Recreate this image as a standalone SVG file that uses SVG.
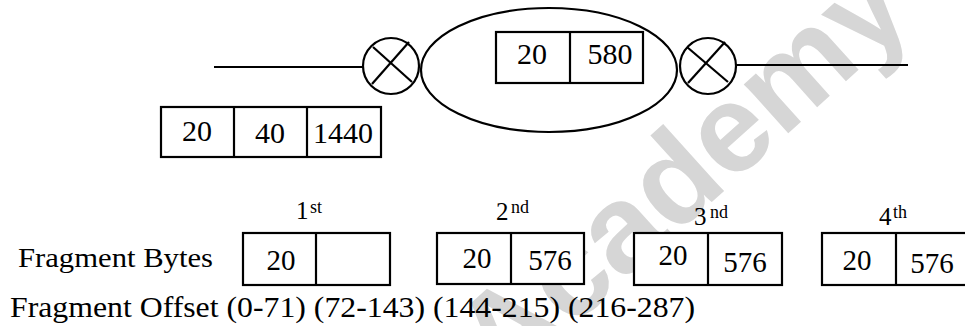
<svg xmlns="http://www.w3.org/2000/svg" width="965" height="326" viewBox="0 0 965 326">
<style>
  .s{fill:none;stroke:#000;stroke-width:2.2}
  .box{fill:#fff;stroke:#000;stroke-width:2.2}
  .n{font-size:30px;text-anchor:middle}
  .b{font-size:29px;text-anchor:middle}
  .o{font-size:25px}
  .sup{font-size:18px}
  .wm{font-weight:bold;font-size:125px;fill:#d6d6d6}
</style>
<rect width="965" height="326" fill="#fff"/>
<g id="watermark" font-family="Liberation Sans, Arial, sans-serif">
  <text class="wm" transform="translate(503,390) rotate(-42)" x="0" y="0">Academy</text>
</g>
<g id="connectors">
  <line class="s" x1="214" y1="67" x2="363" y2="67"/>
  <line class="s" x1="736" y1="65" x2="908" y2="65"/>
</g>
<g id="router-left">
  <circle class="s" cx="391" cy="66" r="28"/>
  <line class="s" x1="372" y1="84" x2="409" y2="42"/>
  <line class="s" x1="373" y1="47" x2="412" y2="82"/>
</g>
<g id="network">
  <ellipse class="s" cx="549" cy="70" rx="128" ry="62"/>
</g>
<g id="router-right">
  <circle class="s" cx="708" cy="66" r="28"/>
  <line class="s" x1="688" y1="83" x2="725" y2="42"/>
  <line class="s" x1="687" y1="47" x2="728" y2="82"/>
</g>
<g font-family="Liberation Serif, Times New Roman, serif" fill="#000">
<g id="packet-in-network">
  <rect class="box" x="496" y="32" width="147" height="51"/>
  <line class="s" x1="570" y1="32" x2="570" y2="83"/>
  <text class="n" x="532" y="64">20</text>
  <text class="n" x="610" y="64">580</text>
</g>
<g id="original-packet">
  <rect class="box" x="161" y="107" width="220" height="50"/>
  <line class="s" x1="234" y1="107" x2="234" y2="157"/>
  <line class="s" x1="307" y1="107" x2="307" y2="157"/>
  <text class="n" x="197" y="141">20</text>
  <text class="n" x="270" y="143">40</text>
  <text class="n" x="343" y="143">1440</text>
</g>
<g id="labels">
  <text x="18" y="267" font-size="28" textLength="195" lengthAdjust="spacingAndGlyphs">Fragment Bytes</text>
  <text x="10" y="317" font-size="29" textLength="685" lengthAdjust="spacingAndGlyphs">Fragment Offset (0-71) (72-143) (144-215) (216-287)</text>
</g>
<g id="fragment-1">
  <text class="o" x="296" y="219">1</text>
  <text class="sup" x="310" y="213">st</text>
  <rect class="box" x="243" y="233" width="147" height="52"/>
  <line class="s" x1="316" y1="233" x2="316" y2="285"/>
  <text class="b" x="281" y="270">20</text>
</g>
<g id="fragment-2">
  <text class="o" x="496" y="220">2</text>
  <text class="sup" x="511" y="213">nd</text>
  <rect class="box" x="437" y="233" width="147" height="51"/>
  <line class="s" x1="511" y1="233" x2="511" y2="284"/>
  <text class="b" x="477" y="268">20</text>
  <text class="b" x="550" y="270">576</text>
</g>
<g id="fragment-3">
  <text class="o" x="694" y="225">3</text>
  <text class="sup" x="710" y="218">nd</text>
  <rect class="box" x="634" y="233" width="148" height="52"/>
  <line class="s" x1="708" y1="233" x2="708" y2="285"/>
  <text class="b" x="673" y="265">20</text>
  <text class="b" x="745" y="272">576</text>
</g>
<g id="fragment-4">
  <text class="o" x="879" y="225">4</text>
  <text class="sup" x="893" y="218">th</text>
  <rect class="box" x="822" y="233" width="150" height="52"/>
  <line class="s" x1="896" y1="233" x2="896" y2="285"/>
  <text class="b" x="857" y="270">20</text>
  <text class="b" x="932" y="273">576</text>
</g>
</g>
</svg>
